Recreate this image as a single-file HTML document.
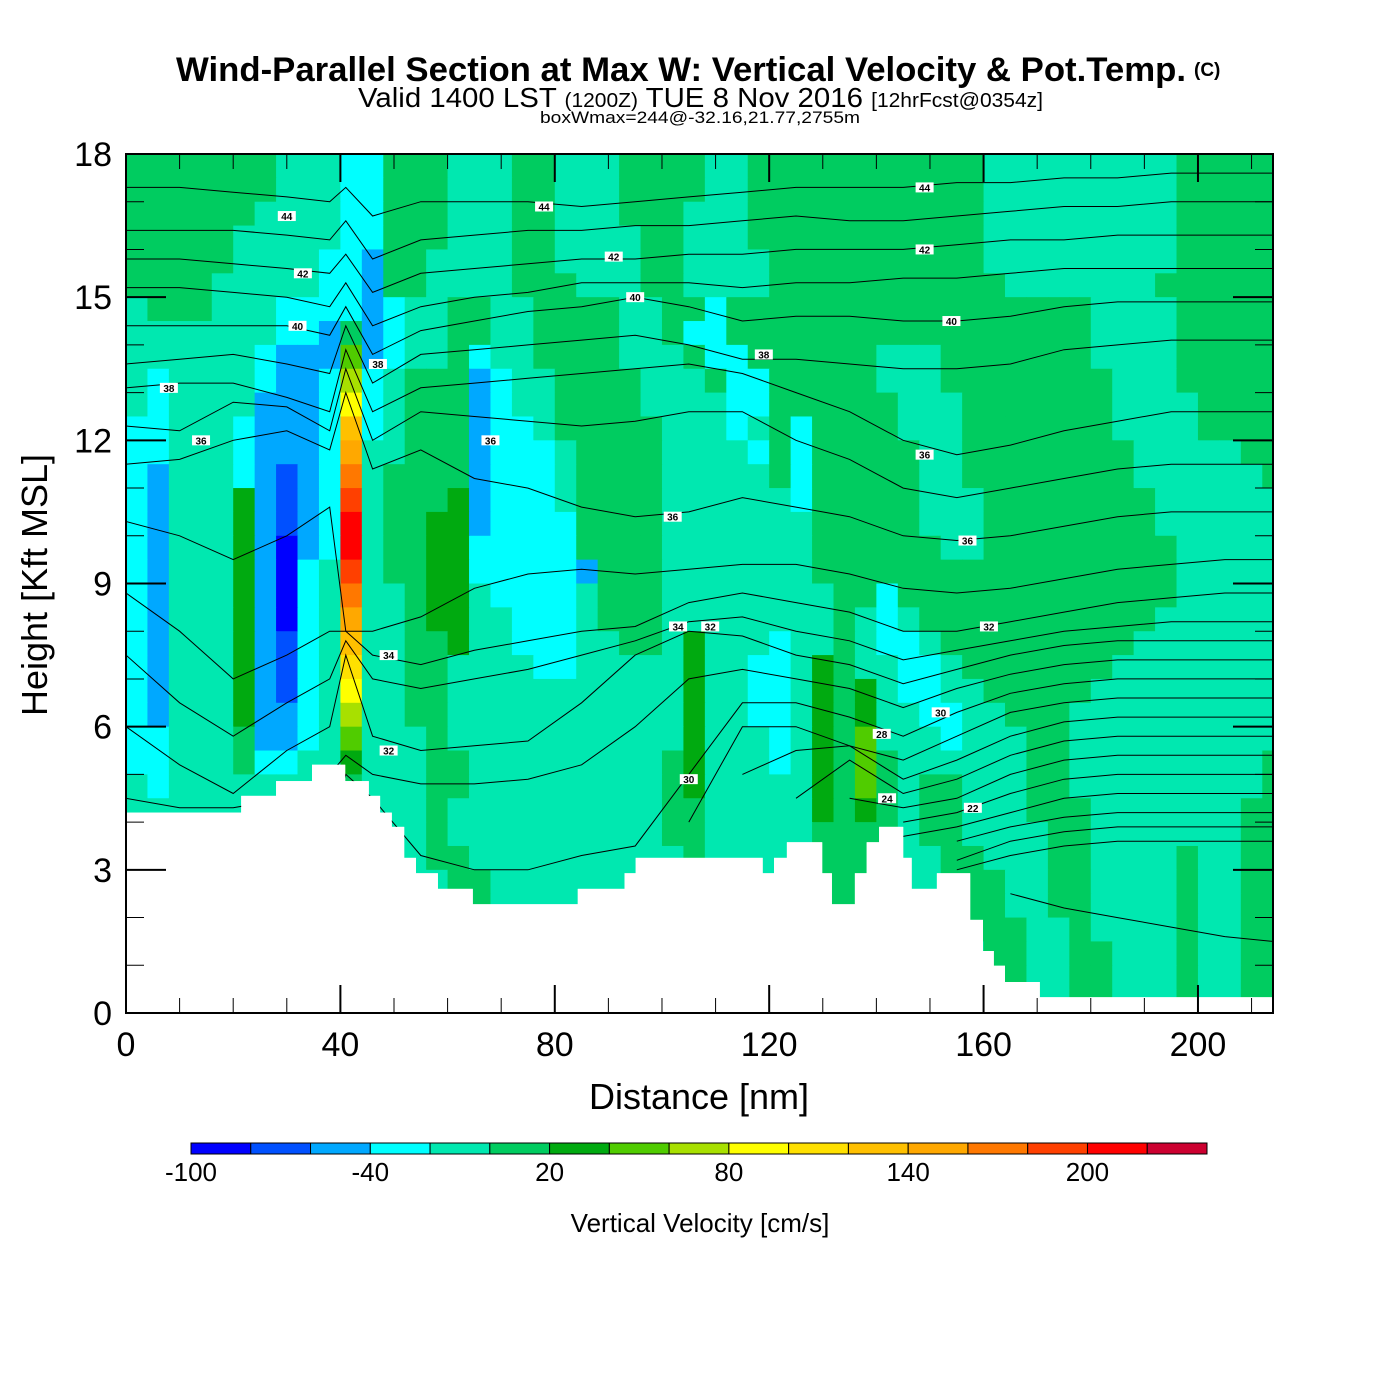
<!DOCTYPE html>
<html><head><meta charset="utf-8"><style>
html,body{margin:0;padding:0;background:#fff;}
svg{display:block;font-family:"Liberation Sans",sans-serif;}
</style></head><body>
<svg id="chart" width="1400" height="1400" viewBox="0 0 1400 1400" xmlns="http://www.w3.org/2000/svg">
<rect x="0" y="0" width="1400" height="1400" fill="#fff"/>
<text x="176" y="81" font-size="34" font-weight="bold" textLength="1010" lengthAdjust="spacingAndGlyphs">Wind-Parallel Section at Max W: Vertical Velocity &amp; Pot.Temp.</text>
<text x="1194" y="76" font-size="19" font-weight="bold">(C)</text>
<text x="358" y="107" font-size="28" textLength="685" lengthAdjust="spacingAndGlyphs">Valid 1400 LST <tspan font-size="20">(1200Z)</tspan> TUE 8 Nov 2016 <tspan font-size="20">[12hrFcst@0354z]</tspan></text>
<text x="540" y="123" font-size="17" textLength="320" lengthAdjust="spacingAndGlyphs">boxWmax=244@-32.16,21.77,2755m</text>
<defs><clipPath id="plotclip"><rect x="126" y="154" width="1147" height="859"/></clipPath></defs>
<g id="field" clip-path="url(#plotclip)"></g>
<g id="terrain" clip-path="url(#plotclip)"></g>
<g id="contours" clip-path="url(#plotclip)"></g>
<g id="axes"></g>
<g id="colorbar"></g>
<text x="699" y="1109" text-anchor="middle" font-size="36">Distance [nm]</text>
<text transform="translate(47,585) rotate(-90)" text-anchor="middle" font-size="36">Height [Kft MSL]</text>
<text x="700" y="1232" text-anchor="middle" font-size="26">Vertical Velocity [cm/s]</text>
</svg>
<script>
// ---- data ----
const binCodes = "ABCDEFGHIJKLMNOPQ";
const binColors = ["#0000ff","#0050ff","#00a8ff","#00ffff","#00e8b0","#00cc60","#00aa10","#50cc00","#a8e000","#ffff00","#ffe000","#ffc000","#ffa800","#ff7800","#ff4000","#ff0000","#cc0030"];
const binEdges = [-100,-80,-60,-40,-20,0,20,40,60,80,100,120,140,160,180,200,220,240];
const cbLabels = [-100,-40,20,80,140,200];
const colStepNm = 4;
const rowStepKft = 0.5;
const wRows = [
"FFFFFFFEEEDDFFFEEEFFEEEFFFFEEFFFFFFFFFFFEEEEEEEEEFFFFF",
"FFFFFFFEEEDDFFFEEEFFEEEFFFFEEFFFFFFFFFFFEEEEEEEEEFFFFF",
"FFFFFFEEEEDDFFFEEEFFEEEFFFEEEFFFFFFFFFFFEEEEEEEEEFFFFF",
"FFFFFEEEEEDDFFFEEEFFEEEEFFEEEFFFFFFFFFFFEEEEEEEEEFFFFF",
"FFFFFEEEEDDCFFEEEEFFEEEEFFEEEEFFFFFFFFFFEEEEEEEEEFFFFF",
"FFFFEEEEEDDCFFEEEEFFFEEEFFEEEEFFFFFFFFFFFEEEEEEEFFFFFF",
"EFFFEEEDDDDCDEEFFEEFFFFEEFFDFFFFFFFFFFFFFFFFFEEEEFFFFF",
"EEEEEEEDDCFCDEEFFEEFFFFEEFDDFFFFFFFFFFFFFFFFFEEEEFFFFF",
"EEEEEEDCCCHCDEEFDEEFFFFEEEFDDFFFFFFEEEFFFFFFFEEEEFFFFF",
"EDEEEEDCCDIDEFFFCDEEFFFFEEEFDDFFFFFEEEFFFFFFFFEEEFFFFF",
"EDEEEECCCDJDEFFFCDEEFFFFEEEEDDFFFFFFEEEFFFFFFFEEEEFFFF",
"DDEEEDCCCDLDEFFFCDDEFFFFFEEEDEFDFFFFEEEFFFFFFFEEEEFFFF",
"DDEEEDCCCDMEEFFFCDDDEFFFFEEEEDFDFFFFFEEFFFFFFFFEEEEEFF",
"DCEEEDCBCDNEFFFFCDDDEFFFFEEEEEFDFFFFFEEFFFFFFFFEEEEEEF",
"DCEEEGCBCDOEFFFGCDDDEFFFFEEEEEEDFFFFFEEEFFFFFFFFEEEEEE",
"DCEEEGCBCDPEFFGGCDDDDFFFFEEEEEEEFFFFFEEEFFFFFFFFEEEEEE",
"DCEEEGCACDPEFFGGDDDDDFFFFEEEEEEEFFFFFFEEFFFFFFFFFEEEEE",
"DCEEEGCADEOEFFGGDDDDDCFFFEEEEEEEFFFFFFFFFFFFFFFFFEEEEE",
"DCEEEGCADENEEFGGEDDDDEFFFEEEEEEEEFFDFFFFFFFFFFFFFEEEEE",
"DCEEEGCADEMEEFGGEEDDDEFFFEEEEEEEEFEDEFFFFFFFFFFFEEEEEE",
"DCEEEGCBDELEEFFGEEDDDEEFFEGEEEDEEFEDDEFFFFFFFFFEEEEEEE",
"DCEEEGCBDEKEEFFEEEEDDEEEEEGEEDDEGFEEDDEFFFFFFFEEEEEEEE",
"DCEEEGCBDEJEEFFEEEEEEEEEEEGEEDDEGFGEDDEEFFFFFEEEEEEEEE",
"DCEEEGCCDEIEEFFEEEEEEEEEEEGEEDDEGFGEEDDEEFFFEEEEEEEEEE",
"DDEEEFCCDEHEEEFEEEEEEEEEEEGEEEDEGFHEEEDEEEFFEEEEEEEEEE",
"DDEEEFDDEEGEEEFFEEEEEEEEEFGEEEDEGFHFEEEEEEFFEEEEEEEEEF",
"EDEEEEEEEEFEEEFFEEEEEEEEEFGEEEEEGFHFEFFEEEFFEEEEEEEEEF",
"EEEEEEEEEEEEEEFEEEEEEEEEEFFEEEEEGFGFEFFEEEFFFEEEEEEEFF",
"EEEEEEEEEEEEEEFEEEEEEEEEEFFEEEEEFFFFEFFEEEEFFEEEEEEEFF",
"EEEEEEEEEEEEEEFFEEEEEEEEEEFEEEEEFFFEEEFFEEEFFEEEEFEEFF",
"EEEEEEEEEEEEEEEFFEEEEEEEEEEEEEEEFFFEEEFFFEEFFEEEEFEEFF",
"EEEEEEEEEEEEEEEFFEEEEEEEEEEEEEEEFFFEEEFFFEEFFEEEEFEEFF",
"EEEEEEEEEEEEEEEEEEEEEEEEEEEEEEEEEEEEEEEFFFEEFEEEEFEEFF",
"EEEEEEEEEEEEEEEEEEEEEEEEEEEEEEEEEEEEEEEEFFEEFFEEEFEEFF",
"EEEEEEEEEEEEEEEEEEEEEEEEEEEEEEEEEEEEEEEEFFEEFFEEEFEEFF",
"EEEEEEEEEEEEEEEEEEEEEEEEEEEEEEEEEEEEEEEEFFEEFFEEEFEEFF"
];
const terrainX = [0,21.5,28,34.7,40.9,45.3,47.4,49.6,51.9,54.1,58.2,64.7,84.3,93,95.1,118.8,120.9,123.3,129.9,131.7,136,138.2,140.5,145,146.6,151.3,157.5,159.9,161.9,164,170.5,214];
const terrainH = [4.2,4.55,4.86,5.2,4.86,4.55,4.2,3.9,3.25,2.93,2.6,2.28,2.6,2.93,3.25,2.93,3.25,3.58,2.93,2.28,2.93,3.58,3.9,3.25,2.6,2.93,1.95,1.3,0.99,0.65,0.33,0.33];
const thetaX = [0,10,20,30,38,41,46,55,65,75,85,95,105,115,125,135,145,155,165,175,185,195,205,214];
const thetaLevels = [44,43,42,41,40,39,38,37,36,35,34,33,32,31,30];
const th44 = [17.3,17.3,17.2,17.1,17.0,17.3,16.7,17.0,17.0,17.0,16.9,17.0,17.1,17.2,17.3,17.3,17.3,17.4,17.4,17.5,17.5,17.6,17.6,17.6];
const th43 = [16.4,16.4,16.4,16.3,16.2,16.6,15.8,16.2,16.3,16.4,16.4,16.5,16.5,16.6,16.7,16.6,16.6,16.7,16.8,16.9,16.9,17.0,17.0,17.0];
const th42 = [15.8,15.8,15.7,15.6,15.5,15.9,15.1,15.5,15.6,15.7,15.8,15.8,15.9,15.9,16.0,16.0,16.0,16.1,16.2,16.2,16.3,16.3,16.3,16.3];
const th41 = [15.2,15.2,15.1,15.0,14.8,15.3,14.4,14.8,15.0,15.1,15.3,15.3,15.3,15.2,15.3,15.3,15.4,15.4,15.5,15.6,15.6,15.6,15.6,15.6];
const th40 = [14.4,14.4,14.4,14.4,14.2,14.8,13.8,14.3,14.5,14.7,14.8,15.0,14.8,14.5,14.6,14.6,14.5,14.5,14.6,14.8,14.9,14.9,14.9,14.9];
const th39 = [13.6,13.7,13.8,13.6,13.4,14.4,13.2,13.8,13.9,14.0,14.1,14.2,14.0,13.7,13.7,13.6,13.5,13.5,13.6,13.9,14.0,14.1,14.1,14.1];
const th38 = [13.1,13.2,13.2,12.9,12.6,13.9,12.6,13.1,13.2,13.3,13.4,13.5,13.6,13.4,13.0,12.6,12.0,11.7,11.9,12.2,12.4,12.6,12.6,12.6];
const th37 = [12.3,12.2,12.8,12.7,12.2,13.5,12.0,12.6,12.5,12.4,12.3,12.4,12.6,12.6,12.0,11.6,11.0,10.8,11.0,11.2,11.4,11.5,11.5,11.5];
const th36 = [11.5,11.6,12.0,12.2,11.8,13.0,11.4,11.8,11.2,11.0,10.6,10.4,10.5,10.8,10.6,10.4,10.0,9.9,10.0,10.2,10.4,10.5,10.5,10.5];
const th35 = [10.3,10.0,9.5,10.0,10.6,8.0,8.0,8.3,8.9,9.2,9.3,9.2,9.3,9.4,9.4,9.2,8.9,8.8,8.9,9.1,9.3,9.4,9.5,9.5];
const th34 = [8.8,8.0,7.0,7.5,8.0,8.0,7.5,7.3,7.6,7.8,8.0,8.1,8.6,8.8,8.6,8.4,8.0,8.0,8.2,8.4,8.6,8.7,8.8,8.8];
const th33 = [7.5,6.5,5.8,6.5,7.0,7.8,7.0,6.8,7.0,7.2,7.5,7.8,8.2,8.3,8.0,7.8,7.4,7.6,7.8,8.0,8.1,8.2,8.2,8.2];
const th32 = [6.0,5.2,4.6,5.5,6.0,7.5,5.8,5.5,5.6,5.7,6.5,7.5,8.0,7.9,7.5,7.3,6.9,7.2,7.5,7.7,7.8,7.8,7.8,7.8];
const th31 = [4.5,4.3,4.3,4.5,5.0,5.4,5.0,4.8,4.8,4.9,5.2,6.0,7.0,7.2,7.0,6.8,6.4,6.8,7.1,7.3,7.4,7.4,7.4,7.4];
const th30 = [4.0,4.0,4.0,4.0,4.0,5.0,4.5,3.3,3.0,3.0,3.3,3.5,5.0,6.5,6.5,6.2,5.8,6.3,6.7,6.9,7.0,7.0,7.0,7.0];
const thetaLow = [
[null,null,null,null,null,null,null,null,null,null,null,null,4.0,6.0,6.0,5.6,5.3,5.8,6.3,6.5,6.6,6.6,6.6,6.6],
[null,null,null,null,null,null,null,null,null,null,null,null,null,5.0,5.5,5.6,4.9,5.3,5.8,6.1,6.2,6.2,6.2,6.2],
[null,null,null,null,null,null,null,null,null,null,null,null,null,null,4.5,5.3,4.6,4.9,5.4,5.7,5.8,5.8,5.8,5.8],
[null,null,null,null,null,null,null,null,null,null,null,null,null,null,null,4.5,4.3,4.5,5.0,5.3,5.4,5.4,5.4,5.4],
[null,null,null,null,null,null,null,null,null,null,null,null,null,null,null,null,4.0,4.2,4.6,4.9,5.0,5.0,5.0,5.0],
[null,null,null,null,null,null,null,null,null,null,null,null,null,null,null,null,3.7,3.9,4.2,4.5,4.6,4.6,4.6,4.6],
[null,null,null,null,null,null,null,null,null,null,null,null,null,null,null,null,null,3.6,3.9,4.1,4.2,4.2,4.2,4.2],
[null,null,null,null,null,null,null,null,null,null,null,null,null,null,null,null,null,3.2,3.6,3.8,3.9,3.9,3.9,3.9],
[null,null,null,null,null,null,null,null,null,null,null,null,null,null,null,null,null,3.0,3.3,3.5,3.6,3.6,3.6,3.6],
[null,null,null,null,null,null,null,null,null,null,null,null,null,null,null,null,null,null,2.5,2.2,2.0,1.8,1.6,1.5]
];
const labelX = [30,78,149,33,91,149,32,95,154,8,47,119,14,68,149,102,157,103,49,109,161,152,49,105,141,158,142];
const labelY = [16.7,16.9,17.3,15.5,15.85,16.0,14.4,15.0,14.5,13.1,13.6,13.8,12.0,12.0,11.7,10.4,9.9,8.1,7.5,8.1,8.1,6.3,5.5,4.9,5.85,4.3,4.5];
const labelText = ["44","44","44","42","42","42","40","40","40","38","38","38","36","36","36","36","36","34","34","32","32","30","32","30","28","22","24"];

// ---- scales ----
const X0=126,X1=1273,Y0=1013,Y1=154,XMAX=214,YMAX=18;
function xs(nm){return X0+nm*(X1-X0)/XMAX;}
function ys(k){return Y0-k*(Y0-Y1)/YMAX;}
const NS="http://www.w3.org/2000/svg";
function mk(tag,attrs,parent){const e=document.createElementNS(NS,tag);for(const k in attrs)e.setAttribute(k,attrs[k]);parent.appendChild(e);return e;}

// ---- field ----
const field=document.getElementById('field');
wRows.forEach((row,r)=>{
  const kTop=YMAX-r*rowStepKft, kBot=kTop-rowStepKft;
  for(let c=0;c<row.length;c++){
    const idx=binCodes.indexOf(row[c]); if(idx<0)continue;
    const x0=xs(c*colStepNm), x1=xs((c+1)*colStepNm);
    const cell=mk('rect',{x:x0.toFixed(2),y:ys(kTop).toFixed(2),width:(x1-x0+0.6).toFixed(2),height:(ys(kBot)-ys(kTop)+0.6).toFixed(2),fill:binColors[idx]},field);
    
    
  }
});

// ---- terrain ----
const terr=document.getElementById('terrain');
let tp=`M${xs(0)},${ys(0)}`;
for(let i=0;i<terrainX.length;i++){
  const xa=xs(terrainX[i]), xb=xs(i+1<terrainX.length?terrainX[i+1]:XMAX);
  tp+=` L${xa.toFixed(1)},${ys(terrainH[i]).toFixed(1)} L${xb.toFixed(1)},${ys(terrainH[i]).toFixed(1)}`;
}
tp+=` L${xs(XMAX)},${ys(0)} Z`;
const tpath=mk('path',{d:tp,fill:'#fff'},terr);



// ---- contours ----
const cg=document.getElementById('contours');
const thetaSeries=[th44,th43,th42,th41,th40,th39,th38,th37,th36,th35,th34,th33,th32,th31,th30].concat(thetaLow);
thetaSeries.forEach(arr=>{
  let d='',pen=false;
  arr.forEach((v,i)=>{
    if(v===null){pen=false;return;}
    d+=(pen?' L':' M')+xs(thetaX[i]).toFixed(1)+','+ys(v).toFixed(1);pen=true;
  });
  const p=mk('path',{d:d,fill:'none',stroke:'#000','stroke-width':1},cg);
  
  
});
const tpath2=mk('path',{d:tp,fill:'#fff'},cg);


labelText.forEach((t,i)=>{
  const cx=xs(labelX[i]), cy=ys(labelY[i]);
  const b=mk('rect',{x:cx-9,y:cy-5,width:18,height:10,fill:'#fff'},cg);
  
  
  const tx=mk('text',{x:cx,y:cy+4,'text-anchor':'middle','font-size':10,'font-weight':'bold'},cg);
  tx.textContent=t;
  
  
});

// ---- axes ----
const ax=document.getElementById('axes');
const frame=mk('rect',{x:X0,y:Y1,width:X1-X0,height:Y0-Y1,fill:'none',stroke:'#000','stroke-width':2},ax);


const yTicks=[0,3,6,9,12,15,18];
for(let k=0;k<=18;k++){
  const maj=k%3===0, y=ys(k), L=maj?40:18;
  const t1=mk('line',{x1:X0,y1:y,x2:X0+L,y2:y,stroke:'#000','stroke-width':maj?2:1},ax);
  
  
  const t2=mk('line',{x1:X1,y1:y,x2:X1-L,y2:y,stroke:'#000','stroke-width':maj?2:1},ax);
  
  
}
yTicks.forEach(k=>{
  const t=mk('text',{x:112,y:ys(k)+12,'text-anchor':'end','font-size':34},ax);
  t.textContent=k;
  
  
});
const xTicks=[0,40,80,120,160,200];
for(let n=0;n<=210;n+=10){
  const maj=n%40===0, x=xs(n), L=maj?28:15;
  const t1=mk('line',{x1:x,y1:Y0,x2:x,y2:Y0-L,stroke:'#000','stroke-width':maj?2:1},ax);
  
  
  const t2=mk('line',{x1:x,y1:Y1,x2:x,y2:Y1+L,stroke:'#000','stroke-width':maj?2:1},ax);
  
  
}
xTicks.forEach(n=>{
  const t=mk('text',{x:xs(n),y:1056,'text-anchor':'middle','font-size':34},ax);
  t.textContent=n;
  
  
});

// ---- colorbar ----
const cb=document.getElementById('colorbar');
const CB0=191,CB1=1207;
function cbx(v){return CB0+(v-binEdges[0])*(CB1-CB0)/(binEdges[binEdges.length-1]-binEdges[0]);}
binColors.forEach((col,i)=>{
  const r=mk('rect',{x:cbx(binEdges[i]),y:1143,width:cbx(binEdges[i+1])-cbx(binEdges[i]),height:11,fill:col,stroke:'#000','stroke-width':1},cb);
  
  
});
cbLabels.forEach(v=>{
  const t=mk('text',{x:cbx(v),y:1181,'text-anchor':'middle','font-size':26},cb);
  t.textContent=v;
  
  
});
</script>
</body></html>
